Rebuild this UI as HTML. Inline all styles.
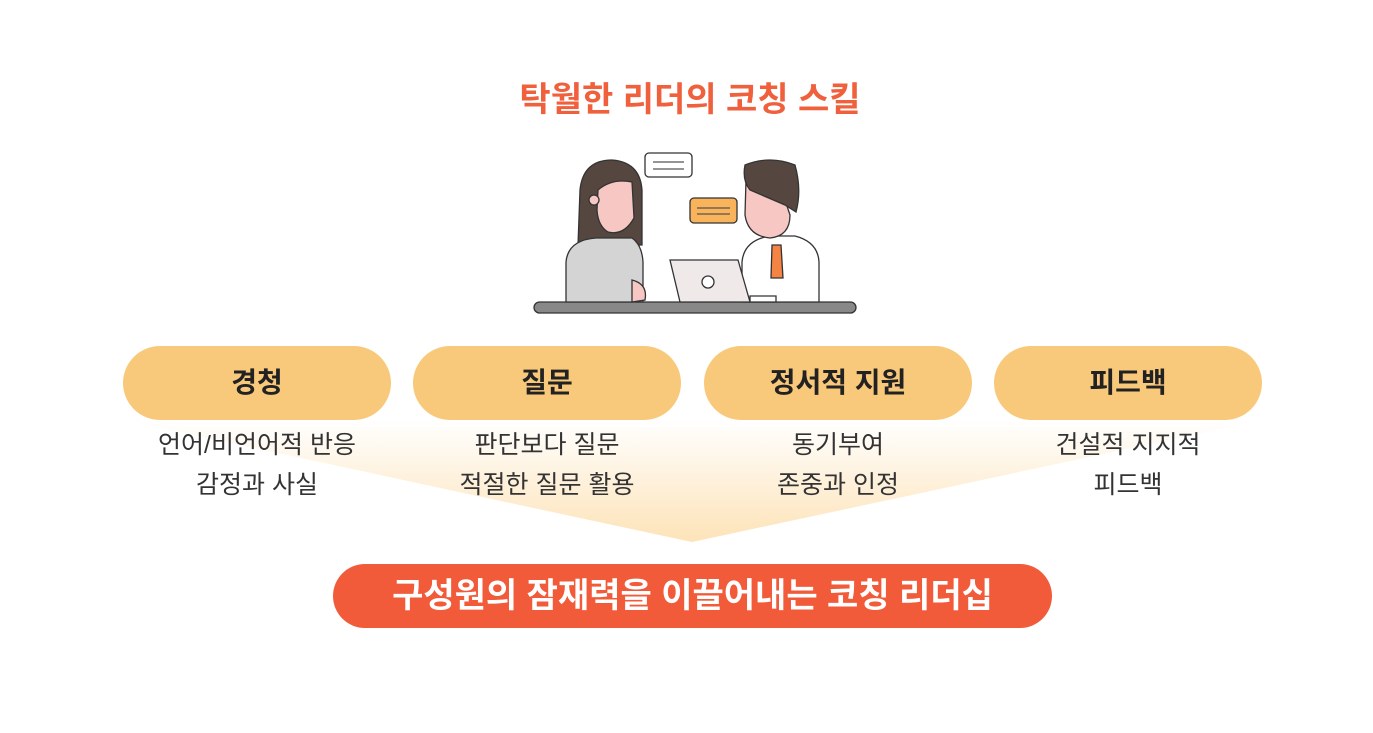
<!DOCTYPE html>
<html><head><meta charset="utf-8"><style>
body{margin:0;width:1373px;height:733px;background:#fff;font-family:"Liberation Sans","Noto Sans CJK KR",sans-serif;position:relative;overflow:hidden}
.t{position:absolute;left:0;width:1380px;text-align:center;top:72px;font-size:34px;font-weight:bold;color:#f0603c}
.pill{position:absolute;top:346px;width:268px;height:74px;border-radius:37px;background:#f9c97b;text-align:center;line-height:74px;font-size:28px;font-weight:bold;color:#222}
.d{position:absolute;top:425px;width:268px;text-align:center;font-size:25px;line-height:40px;color:#333}
.b{position:absolute;left:333px;top:564px;width:719px;height:64px;border-radius:32px;background:#f25b3a;color:#fff;text-align:center;line-height:64px;font-size:34px;font-weight:bold}
</style></head><body>
<svg width="1373" height="733" style="position:absolute;left:0;top:0">
<defs><linearGradient id="g" x1="0" y1="0" x2="0" y2="1"><stop offset="0" stop-color="#fde3b8" stop-opacity="0"/><stop offset="1" stop-color="#fde3b8"/></linearGradient></defs>
<polygon points="124,420 1262,420 692,542" fill="url(#g)"/>
<g stroke="#333" stroke-width="1.3">
<rect x="534" y="302" width="322" height="11" rx="5.5" fill="#888"/>
<path d="M578,245 L580,190 Q583,160 612,160 Q640,162 642,190 L642,245 Z" fill="#554640"/>
<path d="M598,190 Q612,178 632,182 L634,218 Q624,236 608,232 Q598,226 597,210 Z" fill="#f7c7c3"/>
<circle cx="594" cy="200" r="5" fill="#f7c7c3"/>
<path d="M566,262 Q568,240 596,238 L632,238 Q642,245 643,262 L643,302 L566,302 Z" fill="#d4d4d4"/>
<path d="M632,280 Q648,284 645,300 L632,302 Z" fill="#f7c7c3"/>
<path d="M742,262 Q744,240 770,236 L795,236 Q818,242 819,262 L819,302 L742,302 Z" fill="#fff"/>
<path d="M746,180 L784,197 L790,215 Q790,236 770,238 Q748,236 745,215 Z" fill="#f7c7c3"/>
<path d="M745,165 Q770,155 795,165 Q802,190 796,212 L785,205 L750,190 Q742,180 745,165 Z" fill="#554640"/>
<path d="M772,245 L781,245 L783,278 L771,278 Z" fill="#f38443"/>
<path d="M670,260 L738,260 L750,302 L680,302 Z" fill="#efe9ea"/>
<circle cx="708" cy="282" r="6" fill="#fff"/>
<path d="M750,296 L776,296 L776,302 L750,302Z" fill="#fff"/>
<rect x="645" y="153" width="47" height="24" rx="4" fill="#fff"/>
<rect x="690" y="198" width="47" height="25" rx="4" fill="#f9b45b"/>
</g>
<g stroke="#555" stroke-width="1.2"><line x1="653" y1="162" x2="684" y2="162"/><line x1="653" y1="169" x2="684" y2="169"/><line x1="697" y1="208" x2="730" y2="208"/><line x1="697" y1="214" x2="730" y2="214"/></g>
</svg>
<div class="t">탁월한 리더의 코칭 스킬</div>
<div class="pill" style="left:123px">경청</div>
<div class="pill" style="left:413px">질문</div>
<div class="pill" style="left:704px">정서적 지원</div>
<div class="pill" style="left:994px">피드백</div>
<div class="d" style="left:123px">언어/비언어적 반응<br>감정과 사실</div>
<div class="d" style="left:413px">판단보다 질문<br>적절한 질문 활용</div>
<div class="d" style="left:704px">동기부여<br>존중과 인정</div>
<div class="d" style="left:994px">건설적 지지적<br>피드백</div>
<div class="b">구성원의 잠재력을 이끌어내는 코칭 리더십</div>
</body></html>
